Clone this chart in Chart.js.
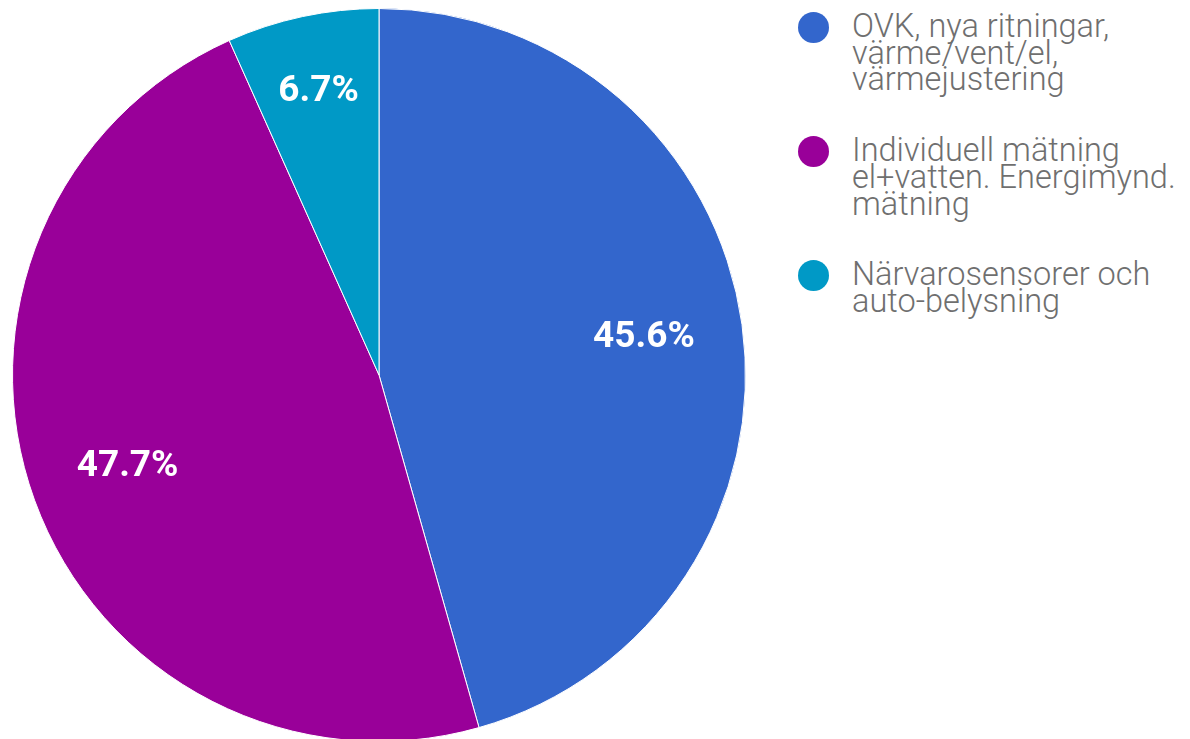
<!DOCTYPE html>
<html>
<head>
<meta charset="utf-8">
<script src="https://cdn.jsdelivr.net/npm/chart.js@4/dist/chart.umd.min.js"></script>
<style>
  html, body { margin: 0; padding: 0; background: #fff; overflow: hidden; }
  #wrap { position: absolute; left: 0; top: 0; width: 758px; height: 750px; }
  #legend { position: absolute; left: 798px; top: 13px; font-family: Roboto, sans-serif; font-weight: 300; font-size: 32.5px; line-height: 26.7px; color: #6f6f6f; }
  .item { position: relative; padding-left: 54px; margin-bottom: 44px; }
  .dot { position: absolute; left: 0; top: -1px; width: 31px; height: 31px; border-radius: 50%; }
</style>
</head>
<body>
<div id="wrap"><canvas id="pie"></canvas></div>
<div id="legend"></div>
<script>
// kategorier (legendtext, radbrutet som i originalet)
const categories = [
  ['OVK, nya ritningar,', 'värme/vent/el,', 'värmejustering'],
  ['Individuell mätning', 'el+vatten. Energimynd.', 'mätning'],
  ['Närvarosensorer och', 'auto-belysning'],
];
// andelar i procent
const shares = [45.6, 47.7, 6.7];
const sliceColors = ['#3366cc', '#990099', '#0099c6'];

// procentetiketter inne i tårtbitarna
const sliceLabels = {
  id: 'sliceLabels',
  afterDatasetsDraw(chart) {
    const { ctx } = chart;
    const meta = chart.getDatasetMeta(0);
    const total = shares.reduce((a, b) => a + b, 0);
    ctx.save();
    ctx.fillStyle = '#ffffff';
    ctx.font = 'bold 37px Roboto, sans-serif';
    ctx.textAlign = 'center';
    ctx.textBaseline = 'middle';
    meta.data.forEach((arc, i) => {
      const pct = shares[i] / total * 100;
      const mid = (arc.startAngle + arc.endAngle) / 2;
      const frac = pct < 10 ? 0.79 : 0.73; // små bitar får etiketten längre ut
      const x = arc.x + Math.cos(mid) * arc.outerRadius * frac;
      const y = arc.y + Math.sin(mid) * arc.outerRadius * frac;
      ctx.fillText(pct.toFixed(1) + '%', x, y);
    });
    ctx.restore();
  },
};

new Chart(document.getElementById('pie'), {
  type: 'pie',
  data: {
    labels: categories.map((c) => c.join(' ')),
    datasets: [{
      data: shares,
      backgroundColor: sliceColors,
      borderColor: '#ffffff',
      borderWidth: 1,
    }],
  },
  options: {
    responsive: true,
    maintainAspectRatio: false,
    animation: false,
    layout: { padding: { top: 8, bottom: 8, left: 12, right: 12 } },
    plugins: {
      legend: { display: false },
      tooltip: { enabled: false },
    },
  },
  plugins: [sliceLabels],
});

// HTML-legend till höger
const legend = document.getElementById('legend');
categories.forEach((lines, i) => {
  const item = document.createElement('div');
  item.className = 'item';
  const dot = document.createElement('span');
  dot.className = 'dot';
  dot.style.background = sliceColors[i];
  item.appendChild(dot);
  lines.forEach((line) => {
    const row = document.createElement('div');
    row.textContent = line;
    item.appendChild(row);
  });
  legend.appendChild(item);
});
</script>
</body>
</html>
